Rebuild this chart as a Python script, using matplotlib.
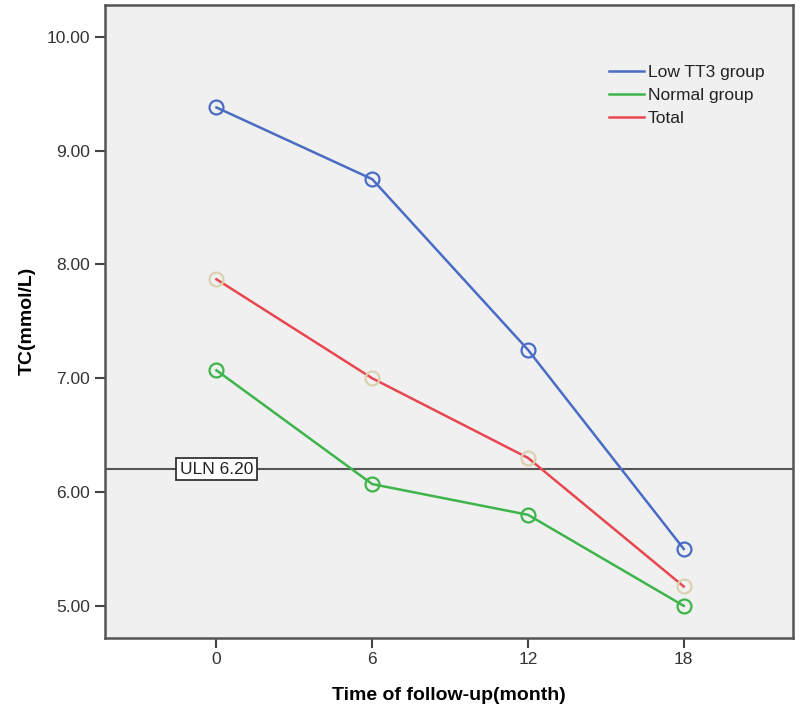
import matplotlib
matplotlib.use("Agg")
import matplotlib.pyplot as plt
from matplotlib.lines import Line2D

months = [0, 6, 12, 18]
low_tt3 = [9.38, 8.75, 7.25, 5.50]
normal = [7.07, 6.07, 5.80, 5.00]
total = [7.87, 7.00, 6.30, 5.17]
uln = 6.20
yticks = [5, 6, 7, 8, 9, 10]

plt.rcParams['font.family'] = ['Liberation Sans', 'DejaVu Sans']

fig = plt.figure(figsize=(8, 7.23), dpi=100)
ax = fig.add_axes([0.131, 0.118, 0.860, 0.875])
ax.set_facecolor('#f0f0f0')

blue = '#4a6cc4'
green = '#3db54a'
red = '#e8474f'
beige = '#d8d2b0'

ax.axhline(uln, color='#555555', lw=1.5, zorder=1)
ax.plot(months, low_tt3, color=blue, lw=1.8, marker='o', ms=10, mfc='none', mec=blue, mew=1.6, zorder=3)
ax.plot(months, normal, color=green, lw=1.8, marker='o', ms=10, mfc='none', mec=green, mew=1.6, zorder=3)
ax.plot(months, total, color=red, lw=1.8, zorder=3)
ax.plot(months, total, ls='none', marker='o', ms=10, mfc='none', mec=beige, mew=1.6, zorder=4)

ax.text(0, uln, 'ULN 6.20', ha='center', va='center', fontsize=12.5, color='#222222', zorder=5,
        bbox=dict(boxstyle='square,pad=0.2', fc='white', ec='#333333', lw=1.3))

ax.set_xlim(-4.3, 22.2)
ax.set_ylim(4.72, 10.28)
ax.set_xticks(months)
ax.set_xticklabels([str(m) for m in months])
ax.set_yticks(yticks)
ax.set_yticklabels([f'{v:.2f}' for v in yticks])
ax.tick_params(axis='both', labelsize=12.5, labelcolor='#333333', length=7, width=1.5, color='#444444')
for s in ax.spines.values():
    s.set_color('#555555')
    s.set_linewidth(1.8)

ax.set_xlabel('Time of follow-up(month)', fontsize=14, fontweight='bold', labelpad=14)
ax.set_ylabel('TC(mmol/L)', fontsize=14, fontweight='bold', labelpad=8)

handles = [Line2D([], [], color=blue, lw=1.8), Line2D([], [], color=green, lw=1.8), Line2D([], [], color=red, lw=1.8)]
leg = ax.legend(handles, ['Low TT3 group', 'Normal group', 'Total'], loc='upper left',
                bbox_to_anchor=(0.71, 0.93), frameon=False, fontsize=12.5, handlelength=2.0,
                handletextpad=0.25, labelspacing=0.45)
for t in leg.get_texts():
    t.set_color('#222222')

fig.savefig('out.png', dpi=100)
